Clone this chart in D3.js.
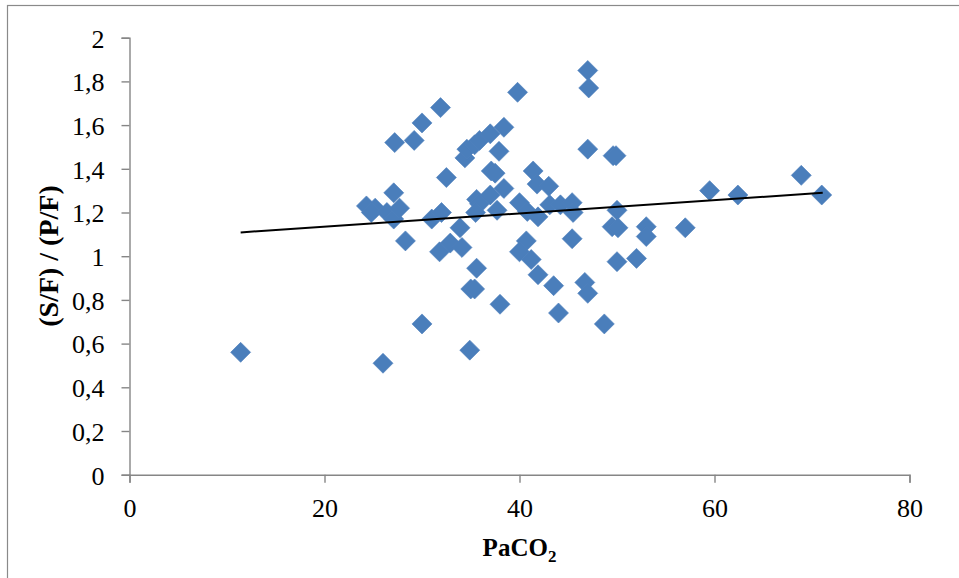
<!DOCTYPE html>
<html>
<head>
<meta charset="utf-8">
<script src="https://cdn.jsdelivr.net/npm/d3@7"></script>
<style>
  html, body { margin: 0; padding: 0; background: #fff; }
  svg { display: block; }
  .tick text { font-family: "Liberation Serif", "DejaVu Serif", serif; }
</style>
</head>
<body>
<svg id="chart" width="959" height="578"></svg>
<script>
// PaCO2 (x) against the (S/F)/(P/F) ratio (y), one entry per patient
const paco2 = [
  11.4, 26.0, 30.0, 34.9, 24.3, 25.2, 24.8, 26.4, 27.1, 27.7,
  27.1, 28.3, 27.2, 29.2, 30.0, 31.9, 32.5, 31.0, 32.0, 33.9,
  31.8, 32.9, 34.1, 34.4, 34.6, 35.4, 35.9, 37.0, 38.4, 39.8,
  37.9, 37.1, 37.5, 38.4, 35.6, 35.9, 35.5, 37.0, 37.7, 35.6,
  35.0, 35.4, 38.0, 40.0, 40.8, 41.9, 43.1, 44.2, 45.4, 45.5,
  41.4, 41.8, 43.0, 40.7, 40.0, 41.2, 41.9, 43.5, 45.4, 44.0,
  46.7, 47.0, 48.7, 47.0, 47.1, 47.0, 49.6, 49.9, 50.0, 49.5,
  50.1, 53.0, 53.0, 57.0, 52.0, 50.0, 59.5, 62.4, 68.9, 71.0
];
const ratio = [
  0.56, 0.51, 0.69, 0.57, 1.23, 1.22, 1.20, 1.20, 1.17, 1.22,
  1.29, 1.07, 1.52, 1.53, 1.61, 1.68, 1.36, 1.17, 1.20, 1.13,
  1.02, 1.06, 1.04, 1.45, 1.49, 1.51, 1.53, 1.56, 1.59, 1.75,
  1.48, 1.39, 1.38, 1.31, 1.26, 1.24, 1.20, 1.28, 1.21, 0.945,
  0.85, 0.85, 0.78, 1.245, 1.205, 1.18, 1.235, 1.235, 1.245, 1.20,
  1.39, 1.33, 1.32, 1.07, 1.02, 0.985, 0.915, 0.865, 1.08, 0.74,
  0.88, 0.83, 0.69, 1.85, 1.77, 1.49, 1.46, 1.46, 1.21, 1.135,
  1.13, 1.135, 1.09, 1.13, 0.99, 0.975, 1.30, 1.28, 1.37, 1.28
];

// Linear trend line end points
const trendX = [11.4, 71.1];
const trendY = [1.109, 1.29];

// Axis ticks
const xTicks = [0, 20, 40, 60, 80];
const yTicks = [0, 0.2, 0.4, 0.6, 0.8, 1, 1.2, 1.4, 1.6, 1.8, 2];

const svg = d3.select("#chart");
const axisGrey = "#868686";
const markerBlue = "#4A7EBB";

// Outer chart frame
svg.append("rect")
  .attr("x", 7.5).attr("y", 5.5)
  .attr("width", 1000).attr("height", 1000)
  .attr("fill", "none").attr("stroke", "#8a8a8a").attr("stroke-width", 1.2);

const x = d3.scaleLinear().domain([0, 80]).range([129.5, 909.5]);
const y = d3.scaleLinear().domain([0, 2]).range([474.7, 37.7]);

const fmt = d => String(+d.toFixed(1)).replace(".", ",");

// Y axis
const yAxis = svg.append("g")
  .attr("transform", `translate(${x(0)},0)`)
  .call(d3.axisLeft(y).tickValues(yTicks).tickFormat(fmt).tickSize(8).tickPadding(17));
// X axis
const xAxis = svg.append("g")
  .attr("transform", `translate(0,${y(0)})`)
  .call(d3.axisBottom(x).tickValues(xTicks).tickFormat(fmt).tickSize(8).tickPadding(16));

[xAxis, yAxis].forEach(g => {
  g.select(".domain").attr("stroke", axisGrey).attr("stroke-width", 1.4);
  g.selectAll(".tick line").attr("stroke", axisGrey).attr("stroke-width", 1.4);
  g.selectAll(".tick text")
    .attr("fill", "#000")
    .style("font-size", "26px");
});
yAxis.selectAll(".tick text").attr("dy", "0.36em");
xAxis.selectAll(".tick text").attr("dy", "0.72em");

// Data markers: diamonds
const diamond = d3.symbol().type(d3.symbolSquare).size(200);
svg.append("g")
  .selectAll("path")
  .data(paco2.map((v, i) => [v, ratio[i]]))
  .join("path")
  .attr("d", diamond)
  .attr("transform", d => `translate(${x(d[0])},${y(d[1])}) rotate(45)`)
  .attr("fill", markerBlue)
  .attr("stroke", "#4F81BD")
  .attr("stroke-width", 0.6);

// Trend line
svg.append("line")
  .attr("x1", x(trendX[0])).attr("y1", y(trendY[0]))
  .attr("x2", x(trendX[1])).attr("y2", y(trendY[1]))
  .attr("stroke", "#000").attr("stroke-width", 2);

// Axis titles
svg.append("text")
  .attr("transform", `translate(58,256) rotate(-90)`)
  .attr("text-anchor", "middle")
  .style("font-family", "'Liberation Serif', serif")
  .style("font-weight", "bold")
  .style("font-size", "28px")
  .text("(S/F) / (P/F)");

const xt = svg.append("text")
  .attr("x", x(40)).attr("y", 556)
  .attr("text-anchor", "middle")
  .style("font-family", "'Liberation Serif', serif")
  .style("font-weight", "bold")
  .style("font-size", "25px");
xt.append("tspan").text("PaCO");
xt.append("tspan").attr("dy", 6).style("font-size", "17px").text("2");
</script>
</body>
</html>
